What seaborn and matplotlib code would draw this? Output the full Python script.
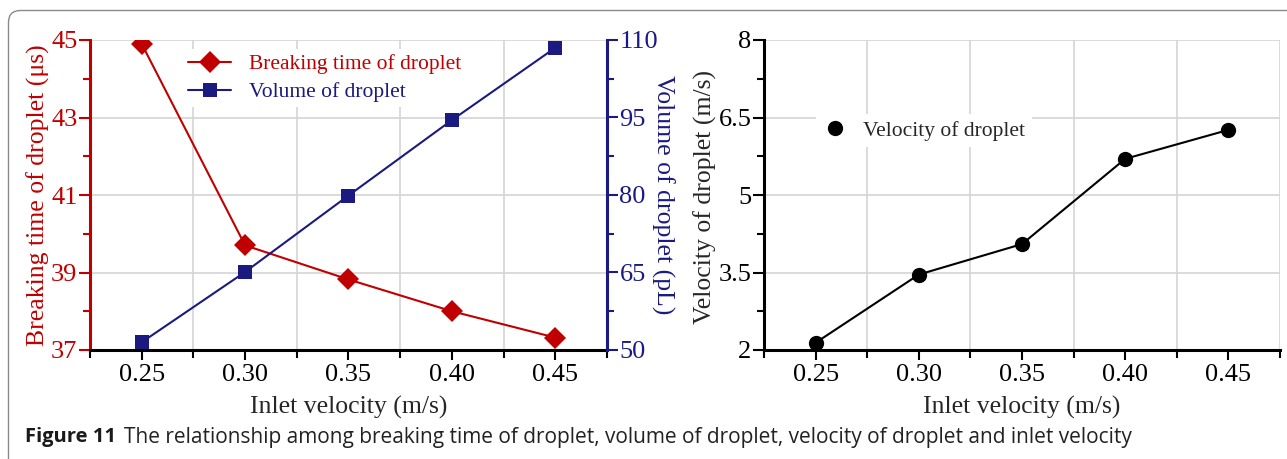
import numpy as np
import pandas as pd
import seaborn as sns
import matplotlib.pyplot as plt
from matplotlib.ticker import AutoMinorLocator
from matplotlib.lines import Line2D
from matplotlib.patches import FancyBboxPatch

inlet = [0.25, 0.30, 0.35, 0.40, 0.45]
inlet_labels = ['0.25', '0.30', '0.35', '0.40', '0.45']
break_time = [44.9, 39.7, 38.82, 38.0, 37.32]
volume = [51.5, 65.1, 79.9, 94.5, 108.5]
velocity = [2.14, 3.46, 4.05, 5.70, 6.26]

red = '#C00000'
navy = '#1B1A80'
grid_c = '#d4d4d4'

sns.set_theme(style='white')
plt.rcParams['font.family'] = ['Liberation Serif', 'DejaVu Serif']

W, H = 1287, 459
fig = plt.figure(figsize=(W / 100, H / 100), dpi=100)
ax1 = fig.add_axes([90 / W, 109 / H, 517 / W, 310 / H])
ax2 = ax1.twinx()
ax3 = fig.add_axes([764 / W, 109 / H, 516 / W, 310 / H])

fs_tick = 19
fs_lab = 18.5
fs_leg = 15.5

# left panel
sns.lineplot(x=inlet, y=break_time, ax=ax1, color=red, marker='D', markersize=11,
             mec=red, mew=0, lw=1.5, legend=False)
sns.lineplot(x=inlet, y=volume, ax=ax2, color=navy, marker='s', markersize=10,
             mec=navy, mew=0, lw=1.5, legend=False)

for ax in (ax1, ax3):
    ax.set_xlim(0.225, 0.475)
    ax.set_xticks(inlet)
    ax.set_xticklabels(inlet_labels)
    ax.set_xticks(np.arange(0.225, 0.4751, 0.05), minor=True)
    ax.grid(which='minor', axis='x', color=grid_c, lw=1.2)
    ax.grid(which='major', axis='y', color=grid_c, lw=1.2)
    ax.tick_params(axis='x', which='both', direction='out', bottom=True, width=1.5,
                   labelsize=fs_tick, pad=3, colors='black')
    ax.tick_params(axis='x', which='major', length=7)
    ax.tick_params(axis='x', which='minor', length=6)
    ax.yaxis.set_minor_locator(AutoMinorLocator(2))
    ax.tick_params(axis='y', which='both', direction='out', left=True, width=1.5,
                   labelsize=fs_tick, pad=1)
    ax.tick_params(axis='y', which='major', length=8)
    ax.tick_params(axis='y', which='minor', length=5)
    ax.spines['top'].set_visible(False)
    ax.spines['right'].set_visible(False)
    ax.spines['bottom'].set_linewidth(2.2)
    ax.spines['left'].set_linewidth(2.2)
    ax.spines['bottom'].set_color('black')
    ax.set_xlabel('Inlet velocity (m/s)', fontsize=fs_lab)
    ax.xaxis.set_label_coords(0.5, -0.148)

ax1.set_ylim(37, 45)
ax1.set_yticks([37, 39, 41, 43, 45])
ax1.spines['left'].set_color(red)
ax1.tick_params(axis='y', which='both', colors=red)
ax1.set_ylabel('Breaking time of droplet (μs)', fontsize=fs_lab, color=red, va='center')
ax1.yaxis.set_label_coords(-0.1006, 0.5)

ax2.set_ylim(50, 110)
ax2.set_yticks([50, 65, 80, 95, 110])
ax2.yaxis.set_minor_locator(AutoMinorLocator(2))
ax2.grid(False)
for s in ('top', 'left', 'bottom'):
    ax2.spines[s].set_visible(False)
ax2.spines['right'].set_color(navy)
ax2.spines['right'].set_linewidth(2.2)
ax2.tick_params(axis='y', which='both', direction='out', right=True, width=1.5,
                labelsize=fs_tick, colors=navy, pad=1)
ax2.tick_params(axis='y', which='major', length=8)
ax2.tick_params(axis='y', which='minor', length=5)
ax2.set_ylabel('Volume of droplet (pL)', fontsize=fs_lab, color=navy, rotation=270, va='center')
ax2.yaxis.set_label_coords(1.108, 0.5)

# legend on ax1 so the navy line of the twin axes stays on top of its white box
h1 = Line2D([], [], color=red, marker='D', markersize=11, mew=0, lw=1.5)
h2 = Line2D([], [], color=navy, marker='s', markersize=10, mew=0, lw=1.5)
leg = ax1.legend([h1, h2], ['Breaking time of droplet', 'Volume of droplet'],
                 loc='upper left', bbox_to_anchor=(183 / W, 1 - 49 / H),
                 bbox_transform=fig.transFigure, fontsize=fs_leg, frameon=True,
                 fancybox=False, framealpha=1, edgecolor='none', facecolor='white',
                 handlelength=2.0, handletextpad=0.8, labelspacing=0.35, borderpad=0.25,
                 borderaxespad=0)
for t, c in zip(leg.get_texts(), (red, navy)):
    t.set_color(c)

# right panel
sns.lineplot(x=inlet, y=velocity, ax=ax3, color='black', marker='o', markersize=11,
             mec='black', mew=0, lw=1.5, legend=False)
ax3.set_ylim(2, 8)
ax3.set_yticks([2, 3.5, 5, 6.5, 8])
ax3.set_yticklabels(['2', '3.5', '5', '6.5', '8'])
ax3.spines['left'].set_color('black')
ax3.tick_params(axis='y', which='both', colors='black')
ax3.set_ylabel('Velocity of droplet (m/s)', fontsize=fs_lab, va='center')
ax3.yaxis.set_label_coords(-0.1143, 0.494)

h3 = Line2D([], [], color='black', marker='o', markersize=11, mew=0, lw=0)
ax3.legend([h3], ['Velocity of droplet'], loc='upper left',
           bbox_to_anchor=(816 / W, 1 - 114 / H), bbox_transform=fig.transFigure,
           fontsize=fs_leg, frameon=True, fancybox=False, framealpha=1,
           edgecolor='none', facecolor='white', handlelength=1.2,
           handletextpad=0.7, borderpad=0.3, borderaxespad=0)

# caption
fig.text(25 / W, 1 - 437 / H, 'Figure 11', family=['Open Sans', 'DejaVu Sans'],
         weight='bold', fontsize=14.5, va='center', ha='left', color='#1a1a1a')
fig.text(124 / W, 1 - 437 / H,
         'The relationship among breaking time of droplet, volume of droplet, '
         'velocity of droplet and inlet velocity',
         family=['Open Sans', 'DejaVu Sans'], fontsize=15, va='center', ha='left',
         color='#222222')

frame = FancyBboxPatch((8.5, -60), 1400, H - 10.5 + 60,
                       boxstyle='round,pad=0,rounding_size=12', transform=None,
                       fill=False, edgecolor='#8a8a8a', lw=1)
fig.add_artist(frame)

fig.savefig('out.png', dpi=100)
